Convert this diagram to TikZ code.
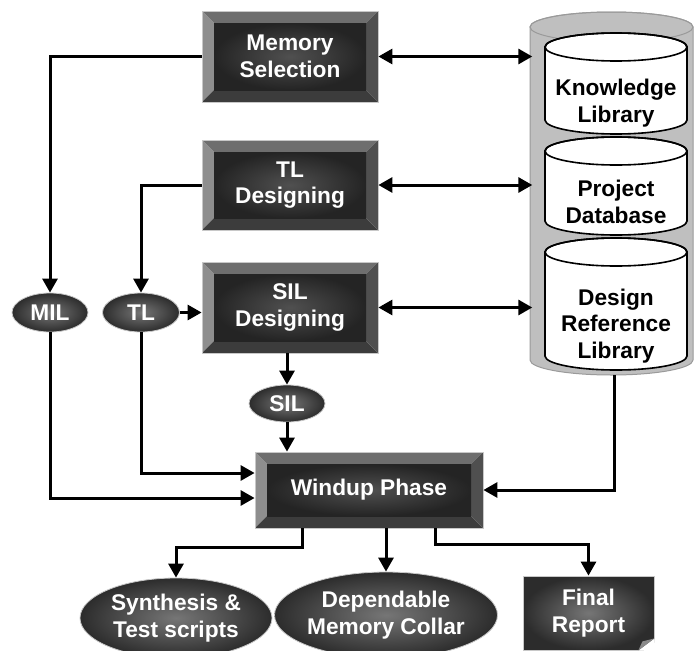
\documentclass[tikz,border=0pt]{standalone}
\usepackage{fontspec}
\setmainfont{Liberation Sans}
\usetikzlibrary{arrows.meta,shapes.geometric,calc}
\definecolor{bvtop}{HTML}{6E6E6E}
\definecolor{bvleft}{HTML}{8E8E8E}
\definecolor{bvbot}{HTML}{3C3C3C}
\definecolor{bvright}{HTML}{4F4F4F}
\definecolor{faceout}{HTML}{242424}
\definecolor{facein}{HTML}{505050}
\definecolor{ellin}{HTML}{767676}
\definecolor{ellout}{HTML}{2C2C2C}
\definecolor{rimline}{HTML}{C8C8C8}
\definecolor{repogray}{HTML}{BFBFBF}
\definecolor{repoline}{HTML}{9A9A9A}
\definecolor{foldgray}{HTML}{8A8A8A}
\newcommand\dbcyl[3]{%
  \filldraw[fill=white, draw=black, line width=1.6pt] (#1-71,#2) -- (#1-71,#3)
    arc[start angle=180,end angle=360,x radius=71pt,y radius=14pt] -- (#1+71,#2)
    arc[start angle=0,end angle=180,x radius=71pt,y radius=14pt] -- cycle;
  \draw[black, line width=1.6pt] (#1,#2) ellipse [x radius=71pt, y radius=14pt];}
\tikzset{
  lbl/.style={font=\bfseries\fontsize{22.7}{26.5}\selectfont, align=center},
  bevelbox/.style 2 args={rectangle, minimum width=#1, minimum height=#2, inner sep=0pt,
    lbl, text=white, draw=rimline, line width=0.8pt,
    path picture={
      \coordinate (pbsw) at (path picture bounding box.south west);
      \coordinate (pbne) at (path picture bounding box.north east);
      \coordinate (pbnw) at (path picture bounding box.north west);
      \coordinate (pbse) at (path picture bounding box.south east);
      \fill[bvtop] (pbnw) -- (pbne) -- ([shift={(-12pt,-12pt)}]pbne) -- ([shift={(12pt,-12pt)}]pbnw) -- cycle;
      \fill[bvleft] (pbnw) -- (pbsw) -- ([shift={(12pt,12pt)}]pbsw) -- ([shift={(12pt,-12pt)}]pbnw) -- cycle;
      \fill[bvbot] (pbsw) -- (pbse) -- ([shift={(-12pt,12pt)}]pbse) -- ([shift={(12pt,12pt)}]pbsw) -- cycle;
      \fill[bvright] (pbne) -- (pbse) -- ([shift={(-12pt,12pt)}]pbse) -- ([shift={(-12pt,-12pt)}]pbne) -- cycle;
      \shade[inner color=facein, outer color=faceout] ([shift={(12pt,12pt)}]pbsw) rectangle ([shift={(-12pt,-12pt)}]pbne);
    }},
  darkell/.style 2 args={ellipse, minimum width=#1, minimum height=#2, inner sep=0pt,
    lbl, text=white, inner color=ellin, outer color=ellout, draw=rimline, line width=0.8pt},
  reportbox/.style={rectangle, minimum width=131pt, minimum height=74pt, inner sep=0pt,
    lbl, text=white, inner color=ellin, outer color=ellout, draw=rimline, line width=0.8pt},
  arr/.style={line width=3pt, -{Triangle[width=15pt,length=14pt]}},
  darr/.style={line width=3pt, {Triangle[width=15pt,length=14pt]}-{Triangle[width=15pt,length=14pt]}}
}
\begin{document}
\begin{tikzpicture}[x=1pt,y=-1pt]
\useasboundingbox (0,0) rectangle (694,651);

% repository cylinder
\filldraw[fill=repogray, draw=repoline, line width=1pt] (530,27) -- (530,360)
  arc[start angle=180,end angle=360,x radius=81.5pt,y radius=15pt] -- (693,27)
  arc[start angle=0,end angle=180,x radius=81.5pt,y radius=15pt] -- cycle;
\draw[repoline, line width=1pt] (611.5,27) ellipse [x radius=81.5pt, y radius=15pt];
\node[minimum width=163pt, minimum height=363pt, inner sep=0pt] (repo) at (614,193.5) {};

\dbcyl{616}{47}{120}
\dbcyl{616}{151}{221}
\dbcyl{616}{252}{356}
\node[lbl] (kl) at (616,103) {Knowledge\\Library};
\node[lbl] (pd) at (616,202) {Project\\Database};
\node[lbl] (drl) at (616,326) {Design\\Reference\\Library};

% process boxes
\node[bevelbox={176pt}{91pt}] (mem) at (290,56.5) {Memory\\Selection};
\node[bevelbox={176pt}{90pt}] (tld) at (290,185) {TL\\Designing};
\node[bevelbox={176pt}{91pt}] (sild) at (290,307.5) {SIL\\Designing};
\node[bevelbox={228pt}{76pt}] (wind) at (369,490) {Windup Phase};

% small ellipses
\node[darkell={76pt}{39pt}] (mil) at (50,312.5) {MIL};
\node[darkell={77pt}{39pt}] (tl) at (141,312.5) {TL};
\node[darkell={76pt}{37pt}] (sil) at (287,403.5) {SIL};

% outputs
\node[darkell={192pt}{80pt}] (syn) at (176,618) {Synthesis \&\\Test scripts};
\node[darkell={222pt}{86pt}] (dep) at (386,615) {Dependable\\Memory Collar};
\node[reportbox] (fr) at (588.5,613) {Final\\Report};
\fill[white] ([shift={(-16pt,0pt)}]fr.south east) -- ([shift={(1pt,-1pt)}]fr.south east) -- ([shift={(0pt,12pt)}]fr.south east) -- cycle;
\fill[foldgray] ([shift={(-16pt,0pt)}]fr.south east) -- ([shift={(0pt,12pt)}]fr.south east) -- ([shift={(-12pt,9pt)}]fr.south east) -- cycle;

% connectors
\draw[darr] (mem.east) -- (mem.east -| repo.west);
\draw[darr] (tld.east) -- (tld.east -| repo.west);
\draw[darr] (sild.east) -- (sild.east -| repo.west);
\draw[arr] (mem.west) -| (mil.north);
\draw[arr] (tld.west) -| (tl.north);
\draw[arr] (tl.east) -- (tl.east -| sild.west);
\draw[arr] (sild.south -| sil.north) -- (sil.north);
\draw[arr] (sil.south) -- (sil.south |- wind.north);
\draw[arr] (mil.south) |- ([yshift=-8pt]wind.west);
\draw[arr] (tl.south) |- ([yshift=17pt]wind.west);
\draw[arr] (repo.south) |- (wind.east);
\draw[arr] ([xshift=-67pt]wind.south) -- ++(0,19) -| (syn.north);
\draw[arr] (dep.north |- wind.south) -- (dep.north);
\draw[arr] ([xshift=66pt]wind.south) -- ++(0,16) -| (fr.north);
\end{tikzpicture}
\end{document}
